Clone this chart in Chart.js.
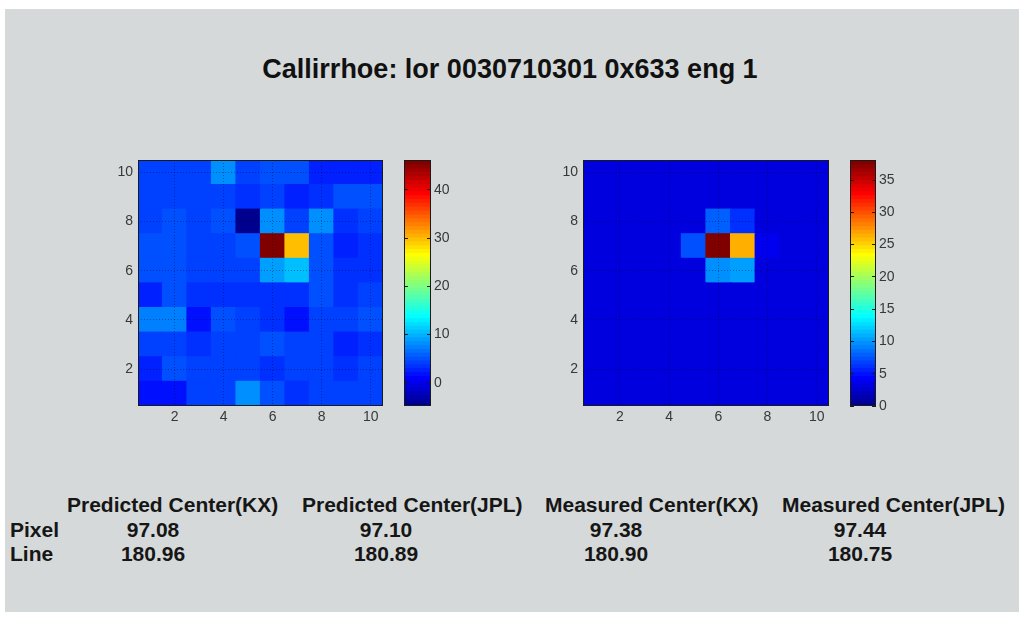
<!DOCTYPE html>
<html><head><meta charset="utf-8">
<script src="https://cdn.jsdelivr.net/npm/chart.js@4.4.0/dist/chart.umd.min.js"></script>
<style>
html,body{margin:0;padding:0;background:#fff;width:1028px;height:622px;overflow:hidden;}
#fig{position:absolute;left:5px;top:9px;width:1014px;height:603px;background:#d5d9d9;}
.box{position:absolute;}
#title{position:absolute;left:-4px;width:1028px;top:54px;line-height:32px;text-align:center;font:bold 27px "Liberation Sans",Arial,sans-serif;color:#111;white-space:nowrap;}
.t{position:absolute;font:bold 21px "Liberation Sans",Arial,sans-serif;color:#161616;white-space:nowrap;line-height:24px;}
.v{text-align:center;width:140px;}
</style></head><body>
<div id="fig"></div>
<div id="title"></div>
<div class="box" style="left:100px;top:150px;width:290px;height:280px;"><canvas id="hmL"></canvas></div>
<div class="box" style="left:404px;top:150px;width:57px;height:266px;"><canvas id="cbL"></canvas></div>
<div class="box" style="left:545px;top:150px;width:290px;height:280px;"><canvas id="hmR"></canvas></div>
<div class="box" style="left:850px;top:150px;width:56px;height:266px;"><canvas id="cbR"></canvas></div>
<div id="table"></div>
<script>
// ---------------- data ----------------
const titleText = "Callirrhoe: lor 0030710301 0x633 eng 1";
const xValues = [1,2,3,4,5,6,7,8,9,10];
const yValues = [10,9,8,7,6,5,4,3,2,1];          // rows listed top to bottom
const axisTicks = [2,4,6,8,10];

// Predicted image (rows y=10 .. y=1, columns x=1..10)
const predictedRow10 = [4.5,4.5,4.5,8,4.5,5,5,3,2.5,2.5];
const predictedRow9  = [4.5,4,4,4,3.5,4,3,3.5,5.5,5.5];
const predictedRow8  = [4.5,5,4.5,5,-4.8,8.5,4.5,8.5,3.5,4];
const predictedRow7  = [5,5,4.5,4.5,5,46.2,29.5,5,3,3.5];
const predictedRow6  = [5,5,4.5,4.5,4.5,9,11,5,3.5,3.5];
const predictedRow5  = [3,5,3.5,3.5,3.5,3.5,3.5,5,3.5,4];
const predictedRow4  = [7.5,7.5,2,5,4,3.5,2,4.5,4.5,5];
const predictedRow3  = [4.5,4.5,3.5,4,4.5,5.5,4,4.5,3,3.5];
const predictedRow2  = [3,5,4,4,4,3.5,4,4.5,3.5,4];
const predictedRow1  = [2,2,4,4,8,5,3.5,4,4,4.5];

// Measured image
const measuredRow10 = [3,3,3,3,3,3,3,3,3,3];
const measuredRow9  = [3,3,3,3,3,3,3,3,3,3];
const measuredRow8  = [3,3,3,3,3,8,6,3,3,3];
const measuredRow7  = [3,3,3,3,7.5,38.1,26.5,4,3,3];
const measuredRow6  = [3,3,3,3,3,10,10.5,3,3,3];
const measuredRow5  = [3,3,3,3,3,3,3,3,3,3];
const measuredRow4  = [3,3,3,3,3,3,3,3,3,3];
const measuredRow3  = [3,3,3,3,3,3,3,3,3,3];
const measuredRow2  = [3,3,3,3,3,3,3,3,3,3];
const measuredRow1  = [3,3,3,3,3,3,3,3,3,3];

const predictedRange = [-4.8, 46.2];
const measuredRange  = [0, 38.1];
const predictedCbTicks = [0,10,20,30,40];
const measuredCbTicks  = [0,5,10,15,20,25,30,35];

const tableHeaders = ["Predicted Center(KX)","Predicted Center(JPL)","Measured Center(KX)","Measured Center(JPL)"];
const rowLabels = ["Pixel","Line"];
const pixelValues = ["97.08","97.10","97.38","97.44"];
const lineValues  = ["180.96","180.89","180.90","180.75"];

// ---------------- helpers ----------------
function jetMap(m){
  const n = Math.ceil(m/4), u = [];
  for (let i=1;i<=n;i++) u.push(i/n);
  for (let i=1;i<n;i++) u.push(1);
  for (let i=n;i>=1;i--) u.push(i/n);
  const off = Math.ceil(n/2) - (m%4===1?1:0);
  const J = Array.from({length:m},()=>[0,0,0]);
  u.forEach((val,i)=>{
    const g = off+i+1, r = g+n, b = g-n;
    if (g>=1&&g<=m) J[g-1][1]=val;
    if (r>=1&&r<=m) J[r-1][0]=val;
    if (b>=1&&b<=m) J[b-1][2]=val;
  });
  return J;
}
const JET = jetMap(64);
const rgb = c => `rgb(${Math.round(c[0]*255)},${Math.round(c[1]*255)},${Math.round(c[2]*255)})`;
function colorFor(v, range){
  let idx = Math.floor((v-range[0])/(range[1]-range[0])*64);
  idx = Math.max(0, Math.min(63, idx));
  return rgb(JET[idx]);
}

const boxPlugin = {
  id:'box',
  afterDraw(chart){
    const a = chart.chartArea, ctx = chart.ctx;
    ctx.save();
    ctx.strokeStyle = '#1a1a1a'; ctx.lineWidth = 1;
    ctx.strokeRect(Math.round(a.left)+0.5, Math.round(a.top)+0.5, Math.round(a.right-a.left)-1, Math.round(a.bottom-a.top)-1);
    ctx.restore();
  }
};
const noPad = s => { s.paddingTop = 0; s.paddingBottom = 0; s.paddingLeft = 0; s.paddingRight = 0; };

const tickFont = {family:'"Liberation Sans", Arial, sans-serif', size:14};
const tickColor = '#383838';

function heatmap(id, rows, range, padRight){
  const data = [], colors = [];
  rows.forEach((row, r) => {
    const yv = yValues[r];
    row.forEach((v, c) => {
      data.push({x: xValues[c], y: [yv-0.5, yv+0.5]});
      colors.push(colorFor(v, range));
    });
  });
  const fixTicks = s => { s.ticks = axisTicks.map(v => ({value:v})); };
  new Chart(document.getElementById(id), {
    type:'bar',
    data:{datasets:[{data, backgroundColor:colors, borderWidth:0, barPercentage:1, categoryPercentage:1, inflateAmount:0.6}]},
    options:{
      responsive:true, maintainAspectRatio:false, animation:false,
      layout:{autoPadding:false, padding:{top:10, right:padRight, left:0, bottom:0}},
      plugins:{legend:{display:false}, tooltip:{enabled:false}},
      scales:{
        x:{type:'linear', min:0.5, max:10.5, offset:false,
           afterBuildTicks:fixTicks, afterFit:s=>{s.height=24; noPad(s);},
           grid:{display:true, offset:false, color:'rgba(0,0,0,0.35)', lineWidth:1, z:1, drawTicks:false},
           border:{display:false, dash:[1,2]},
           ticks:{font:tickFont, color:tickColor, padding:3, maxRotation:0, autoSkip:false}},
        y:{type:'linear', min:0.5, max:10.5, offset:false,
           afterBuildTicks:fixTicks, afterFit:s=>{s.width=38; noPad(s);},
           grid:{display:true, offset:false, color:'rgba(0,0,0,0.35)', lineWidth:1, z:1, drawTicks:false},
           border:{display:false, dash:[1,2]},
           ticks:{font:tickFont, color:tickColor, padding:5, autoSkip:false}}
      }
    },
    plugins:[boxPlugin]
  });
}

function colorbar(id, range, ticks, width){
  const data = [], colors = [];
  const step = (range[1]-range[0])/64;
  for (let k=0;k<64;k++){
    data.push({x:'c', y:[range[0]+k*step, range[0]+(k+1)*step]});
    colors.push(rgb(JET[k]));
  }
  new Chart(document.getElementById(id), {
    type:'bar',
    data:{labels:['c'], datasets:[{data, backgroundColor:colors, borderWidth:0, barPercentage:1, categoryPercentage:1, inflateAmount:0.6}]},
    options:{
      responsive:true, maintainAspectRatio:false, animation:false,
      layout:{autoPadding:false, padding:{top:10, bottom:10, left:0, right:0}},
      plugins:{legend:{display:false}, tooltip:{enabled:false}},
      scales:{
        x:{type:'category', display:false},
        y:{type:'linear', position:'right', min:range[0], max:range[1],
           afterBuildTicks:s=>{ s.ticks = ticks.map(v=>({value:v})); },
           afterFit:s=>{s.width=30; noPad(s);},
           grid:{display:true, color:'#1a1a1a', lineWidth:1, z:1, drawTicks:false},
           border:{display:false, dash:[4, width-8]},
           ticks:{font:tickFont, color:tickColor, padding:3, autoSkip:false}}
      }
    },
    plugins:[boxPlugin]
  });
}

heatmap('hmL', [predictedRow10,predictedRow9,predictedRow8,predictedRow7,predictedRow6,predictedRow5,predictedRow4,predictedRow3,predictedRow2,predictedRow1], predictedRange, 7);
heatmap('hmR', [measuredRow10,measuredRow9,measuredRow8,measuredRow7,measuredRow6,measuredRow5,measuredRow4,measuredRow3,measuredRow2,measuredRow1], measuredRange, 6);
colorbar('cbL', predictedRange, predictedCbTicks, 27);
colorbar('cbR', measuredRange, measuredCbTicks, 26);

// ---------------- text ----------------
document.getElementById('title').textContent = titleText;
const headerLeft = [67, 302, 545, 782];
const valueCenter = [153, 386, 616, 860];
const rowTop = [518, 542];
const tbl = document.getElementById('table');
function addText(txt, cls, style){
  const d = document.createElement('div');
  d.className = cls; d.textContent = txt; Object.assign(d.style, style); tbl.appendChild(d);
}
tableHeaders.forEach((h,i)=>addText(h,'t',{left:headerLeft[i]+'px', top:'493px'}));
rowLabels.forEach((l,i)=>addText(l,'t',{left:'10px', top:rowTop[i]+'px'}));
pixelValues.forEach((v,i)=>addText(v,'t v',{left:(valueCenter[i]-70)+'px', top:rowTop[0]+'px'}));
lineValues.forEach((v,i)=>addText(v,'t v',{left:(valueCenter[i]-70)+'px', top:rowTop[1]+'px'}));
</script>
</body></html>
